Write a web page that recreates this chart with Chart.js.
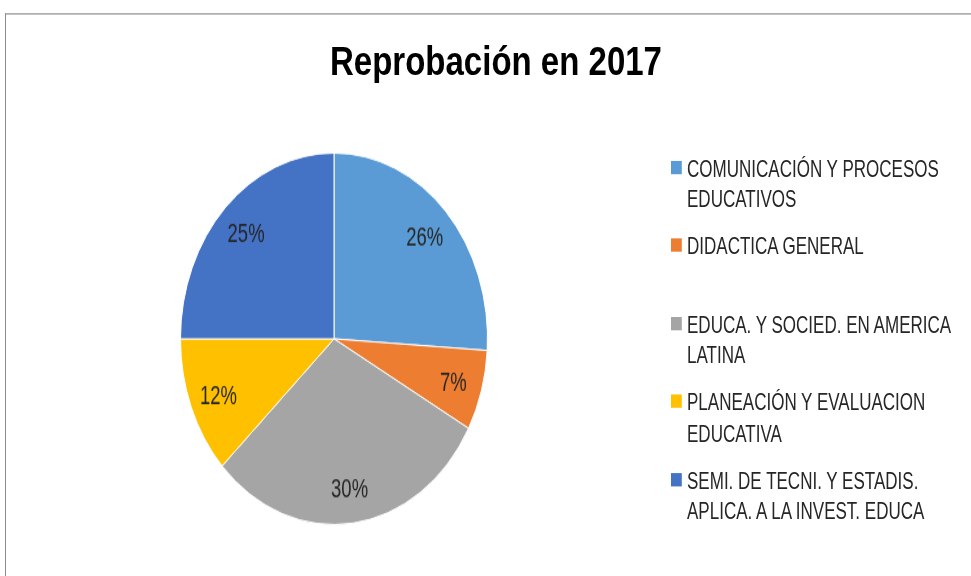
<!DOCTYPE html>
<html>
<head>
<meta charset="utf-8">
<script src="https://cdn.jsdelivr.net/npm/chart.js@4"></script>
<style>
  html { overflow: hidden; }
  body { margin: 0; padding: 0; background: #fff; width: 971px; height: 576px; }
  /* el original está estirado verticalmente (~1.21) */
  #wrap { position: relative; width: 971px; height: 476px; transform: scaleY(1.21); transform-origin: 0 0; }
  #marco { position: absolute; left: 5px; top: 11px; width: 980px; height: 480px;
           border-top: 1px solid #8c8c8c; border-left: 1px solid #8c8c8c; }
  #titulo { position: absolute; left: 0; top: 35px; width: 992px; text-align: center;
            font: bold 33px "Liberation Sans", Arial, sans-serif; line-height: 31px; color: #000; }
  #grafico { position: absolute; left: 0; top: 0; }
  /* texto más estrecho, como en la imagen original */
  #leyenda { position: absolute; left: 671px; top: 125.6px; margin: 0; padding: 0; list-style: none;
             font: 20.5px "Liberation Sans", sans-serif; line-height: 25.5px; color: #262626;
             transform: scaleX(0.83); transform-origin: 0 0; }
  #leyenda li { position: relative; height: 64.5px; padding-left: 19.3px; white-space: nowrap; }
  #leyenda li span { position: absolute; left: 0; top: 7px; width: 13.3px; height: 11px; }
</style>
</head>
<body>
<div id="wrap">
  <div id="marco"></div>
  <div id="titulo">Reprobación en 2017</div>
  <canvas id="grafico" width="971" height="476"></canvas>
  <ul id="leyenda"></ul>
</div>
<script>
// Materias (etiquetas en varias líneas como en la leyenda original)
const materias = [
    ['COMUNICACIÓN Y PROCESOS', 'EDUCATIVOS'],
    ['DIDACTICA GENERAL'],
    ['EDUCA. Y SOCIED. EN AMERICA', 'LATINA'],
    ['PLANEACIÓN Y EVALUACION', 'EDUCATIVA'],
    ['SEMI. DE TECNI. Y ESTADIS.', 'APLICA. A LA INVEST. EDUCA']
];
// Porcentaje de reprobación
const porcentajes = [26, 7, 30, 12, 25];
const colores = ['#5B9BD5', '#ED7D31', '#A5A5A5', '#FFC000', '#4472C4'];

// Etiquetas de porcentaje dentro de cada sector
const etiquetasPie = {
    id: 'etiquetasPie',
    afterDatasetsDraw(chart) {
        const ctx = chart.ctx;
        const meta = chart.getDatasetMeta(0);
        ctx.font = '22px "Liberation Sans", sans-serif';
        ctx.fillStyle = '#262626';
        ctx.textAlign = 'center';
        ctx.textBaseline = 'middle';
        meta.data.forEach((arco, i) => {
            const p = arco.getProps(['x', 'y', 'startAngle', 'endAngle', 'outerRadius'], true);
            const medio = (p.startAngle + p.endAngle) / 2;
            const r = p.outerRadius * 0.81;
            const x = p.x + Math.cos(medio) * r;
            const y = p.y + Math.sin(medio) * r + 2;
            ctx.save();
            ctx.translate(x, y);
            ctx.scale(0.84, 1);
            ctx.fillText(porcentajes[i] + '%', 0, 0);
            ctx.restore();
        });
    }
};

const grafico = new Chart(document.getElementById('grafico').getContext('2d'), {
    type: 'pie',
    data: {
        labels: materias,
        datasets: [{
            data: porcentajes,
            backgroundColor: colores,
            borderColor: '#ffffff',
            borderWidth: 1
        }]
    },
    options: {
        responsive: false,
        animation: false,
        layout: { padding: { left: 180, right: 483, top: 126, bottom: 42 } },
        plugins: {
            legend: { display: false },
            tooltip: { enabled: false },
            title: { display: false }
        }
    },
    plugins: [etiquetasPie]
});

// Leyenda en HTML a partir de los datos del gráfico
const ul = document.getElementById('leyenda');
grafico.data.labels.forEach((lineas, i) => {
    const li = document.createElement('li');
    const cuadro = document.createElement('span');
    cuadro.style.background = colores[i];
    li.appendChild(cuadro);
    li.appendChild(document.createTextNode(lineas[0]));
    for (let k = 1; k < lineas.length; k++) {
        li.appendChild(document.createElement('br'));
        li.appendChild(document.createTextNode(lineas[k]));
    }
    ul.appendChild(li);
});
</script>
</body>
</html>
